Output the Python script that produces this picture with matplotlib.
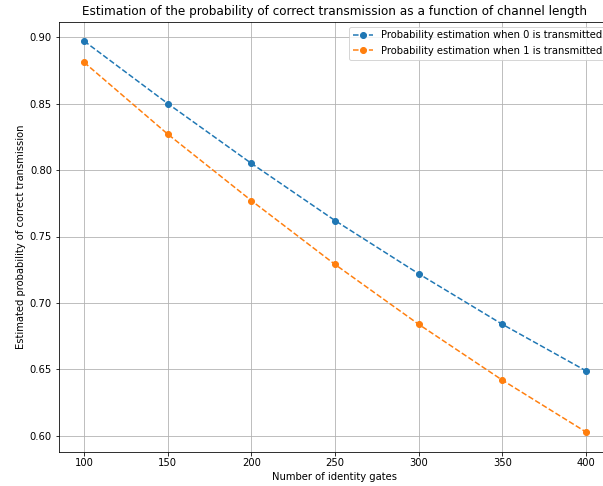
import matplotlib
matplotlib.use("Agg")
import matplotlib.pyplot as plt

gates = [100, 150, 200, 250, 300, 350, 400]
prob_zero = [0.897, 0.850, 0.805, 0.762, 0.722, 0.684, 0.649]
prob_one = [0.881, 0.827, 0.777, 0.729, 0.684, 0.642, 0.603]

W, H, DPI = 603, 486, 72
fig = plt.figure(figsize=(W / DPI, H / DPI), dpi=DPI)
ax = fig.add_axes([59 / W, (H - 451.5) / H, (611 - 59) / W, (451.5 - 21.5) / H])

ax.plot(gates, prob_zero, "o--", label="Probability estimation when 0 is transmitted")
ax.plot(gates, prob_one, "o--", label="Probability estimation when 1 is transmitted")

ax.set_title("Estimation of the probability of correct transmission as a function of channel length", fontsize=12)
ax.set_xlabel("Number of identity gates")
ax.set_ylabel("Estimated probability of correct transmission")
ax.grid(True)
ax.legend(loc="upper right")

fig.savefig("out.png", dpi=DPI)
